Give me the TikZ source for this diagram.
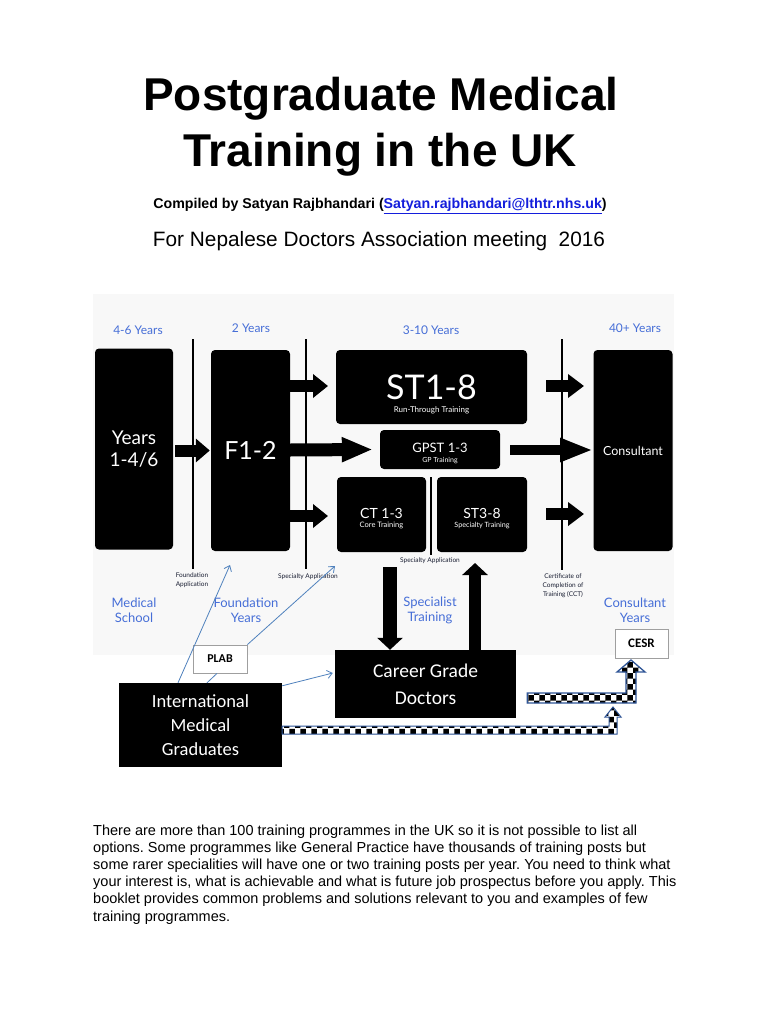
\documentclass[tikz,border=0pt]{standalone}
\usepackage{fontspec}
\setmainfont{Liberation Sans}
\newfontfamily\gill{Lato}
\newfontfamily\calib{Carlito}
\usetikzlibrary{arrows.meta,calc,patterns}
\definecolor{yrblue}{RGB}{70,110,215}
\definecolor{lnblue}{RGB}{79,129,189}
\definecolor{dkblue}{RGB}{47,85,151}
\definecolor{linkblue}{RGB}{20,30,220}
\definecolor{bgg}{RGB}{248,248,248}
\definecolor{lbl}{RGB}{25,30,50}
\frenchspacing
\begin{document}
\begin{tikzpicture}[x=1pt,y=-1pt,
  box/.style={fill=black, rounded corners=4pt, text=white, inner sep=0pt, align=center, font=\gill},
  wtxt/.style={text=white, inner sep=0pt, anchor=base, font=\gill},
  sqbox/.style={fill=black, text=white, inner sep=0pt, align=center, font=\calib},
  wbox/.style={fill=white, draw=gray!75, line width=0.8pt, inner sep=0pt, font=\calib\bfseries},
  yr/.style={text=yrblue, inner sep=0pt, align=center, font=\gill\fontsize{12}{15}\selectfont},
  tinylbl/.style={text=lbl, inner sep=0pt, align=center, font=\gill\fontsize{6.5}{9}\selectfont},
  sepline/.style={line width=2.6pt},
  fat/.style n args={3}{line width=#1, -{Triangle[length=#2,width=#3]}},
  bluearr/.style={lnblue, line width=0.8pt, -{Straight Barb[length=5pt,width=8pt]}},
  chk/.style={draw=dkblue, line width=1.3pt, preaction={fill=white}, pattern=checkerboard}
]
\useasboundingbox (0,0) rectangle (768,1024);
\fill[white] (0,0) rectangle (768,1024);

% ---- title block
\node[anchor=base, inner sep=0pt, font=\bfseries\fontsize{46}{56}\selectfont] (t1) at (381,111) {Postgraduate Medical};
\node[anchor=base, inner sep=0pt, font=\bfseries\fontsize{46}{56}\selectfont] (t2) at (380,167) {Training in the UK};
\node[anchor=base, inner sep=0pt, font=\bfseries\fontsize{14.2}{17}\selectfont] (comp) at (380,209)
  {Compiled by Satyan Rajbhandari (\textcolor{linkblue}{\underline{Satyan.rajbhandari@lthtr.nhs.uk}})};
\node[anchor=base, inner sep=0pt, font=\fontsize{20.8}{24}\selectfont] (nda) at (379,247)
  {For Nepalese Doctors Association meeting\ \ 2016};

% ---- diagram background
\fill[bgg] (93,294) rectangle (674,655);

% year labels
\node[yr] (y1) at (138,330) {4-6 Years};
\node[yr] (y2) at (251,328) {2 Years};
\node[yr] (y3) at (431,330) {3-10 Years};
\node[yr] (y4) at (635,328) {40+ Years};

% separator lines
\draw[sepline] (193,339) -- (193,569);
\draw[sepline] (306,339) -- (306,569);
\draw[sepline] (562,339) -- (562,570);
\draw[sepline] (431,477) -- (431,555);

% boxes
\node[box, minimum width=78, minimum height=201, font=\gill\fontsize{19}{22}\selectfont] (yrs) at (134,449) {Years\\1-4/6};
\node[box, minimum width=79, minimum height=201, font=\gill\fontsize{25}{28}\selectfont] (f12) at (250.5,450.5) {F1-2};
\node[box, minimum width=191, minimum height=74] (st18) at (431.5,387) {};
\node[box, minimum width=120, minimum height=39] (gpst) at (440,449.5) {};
\node[box, minimum width=89, minimum height=75] (ct13) at (381.5,514.5) {};
\node[box, minimum width=90, minimum height=75] (st38) at (482,514.5) {};
\node[box, minimum width=79, minimum height=201, font=\gill\fontsize{12.5}{14}\selectfont] (cons) at (633,450.5) {Consultant};

% box texts
\node[wtxt, font=\gill\fontsize{34}{34}\selectfont] (st18a) at (431.5,399) {ST1-8};
\node[wtxt, font=\gill\fontsize{8}{9}\selectfont] (st18b) at (431.5,412) {Run-Through Training};
\node[wtxt, font=\gill\fontsize{13}{14}\selectfont] (gpsta) at (440,452) {GPST 1-3};
\node[wtxt, font=\gill\fontsize{7}{8}\selectfont] (gpstb) at (440,462) {GP Training};
\node[wtxt, font=\gill\fontsize{14}{15}\selectfont] (ct13a) at (381.5,518) {CT 1-3};
\node[wtxt, font=\gill\fontsize{7.5}{8}\selectfont] (ct13b) at (381.5,527) {Core Training};
\node[wtxt, font=\gill\fontsize{14}{15}\selectfont] (st38a) at (482,518) {ST3-8};
\node[wtxt, font=\gill\fontsize{7.2}{8}\selectfont] (st38b) at (482,527) {Specialty Training};

% small labels
\node[tinylbl] (fa) at (192,580.5) {Foundation\\Application};
\node[tinylbl] (sa1) at (308,577) {Specialty Application};
\node[tinylbl] (sa2) at (430,561) {Specialty Application};
\node[tinylbl] (cct) at (563,586) {Certificate of\\Completion of\\Training (CCT)};

% blue section labels
\node[yr, font=\gill\fontsize{13}{15}\selectfont] (ms) at (134,610) {Medical\\School};
\node[yr, font=\gill\fontsize{13}{15}\selectfont] (fy) at (246,610) {Foundation\\Years};
\node[yr, font=\gill\fontsize{13}{15}\selectfont] (spt) at (430,610) {Specialist\\Training};
\node[yr, font=\gill\fontsize{13}{15}\selectfont] (cy) at (635,610) {Consultant\\Years};

% big black arrows
\coordinate (a1) at (328,386);
\coordinate (a2) at (328,516);
\coordinate (a3s) at (546,386);
\coordinate (a3e) at (584,386);
\coordinate (a4s) at (546,514);
\coordinate (a4e) at (584,514);
\coordinate (a5s) at (510,450);
\coordinate (a5e) at (593,450);
\draw[fat={12pt}{14pt}{23pt}] ($(yrs.east)+(2,1.5)$) -- ($(f12.west)+(-1,0)$);
\draw[fat={12pt}{15pt}{23pt}] (f12.east |- a1) -- (a1);
\draw[fat={13pt}{31pt}{23pt}] (f12.east |- a5s) -- ($(gpst.west)+(-7,0)$);
\draw[fat={12pt}{15pt}{23pt}] (f12.east |- a2) -- (a2);
\draw[fat={12pt}{16pt}{23pt}] (a3s) -- (a3e);
\draw[fat={10pt}{33pt}{22pt}] (a5s) -- (a5e);
\draw[fat={12pt}{16pt}{23pt}] (a4s) -- (a4e);

% lower boxes
\node[sqbox, minimum width=181, minimum height=68, font=\calib\fontsize{19.5}{27}\selectfont] (career) at (425.5,684) {Career Grade\\Doctors};
\node[sqbox, minimum width=163, minimum height=84, font=\calib\fontsize{18.5}{24}\selectfont] (img) at (200.5,725) {International\\Medical\\Graduates};
\node[wbox, minimum width=54, minimum height=28, font=\calib\bfseries\fontsize{12}{14}\selectfont] (plab) at (220,659) {PLAB};
\node[wbox, minimum width=53, minimum height=29, font=\calib\bfseries\fontsize{13}{15}\selectfont] (cesr) at (641.5,643.5) {CESR};

% vertical black arrows
\coordinate (dtop) at (390,567);
\coordinate (utop) at (475,563);
\draw[fat={14pt}{12pt}{25pt}] (dtop) -- (career.north -| dtop);
\draw[fat={12pt}{12pt}{25pt}] (career.north -| utop) -- (utop);

% thin blue arrows
\coordinate (pA) at (230,565);
\coordinate (pB) at (335,566);
\draw[bluearr] ($(img.north)+(-22.5,0)$) -- (pA);
\draw[lnblue, line width=0.8pt] ($(img.north)+(6.5,0)$) -- ($(plab.south)+(-3,0)$);
\draw[bluearr] (plab.north east) -- (pB);
\draw[bluearr] ($(img.north east)+(0,3)$) -- ($(career.west)+(-2,-11)$);

% checkered L-arrows
\draw[chk] ($(career.east)+(11,9)$) -- (626,693) -- (626,672) -- (617,672) -- (631,660) -- (645,672) -- (636,672) -- (636,703) -- ($(career.east)+(11,19)$) -- cycle;
\draw[chk, line width=1pt] ($(img.east)+(0,1)$) -- (609,726) -- (609,717) -- (605,717) -- (613,707) -- (621,717) -- (617,717) -- (617,734) -- ($(img.east)+(0,9)$) -- cycle;

% ---- paragraph (base anchor = last line)
\node[anchor=base west, inner sep=0pt, align=left, font=\fontsize{14.5}{17.2}\selectfont] (para) at (93,921)
{There are more than 100 training programmes in the UK so it is not possible to list all\\
options. Some programmes like General Practice have thousands of training posts but\\
some rarer specialities will have one or two training posts per year. You need to think what\\
your interest is, what is achievable and what is future job prospectus before you apply. This\\
booklet provides common problems and solutions relevant to you and examples of few\\
training programmes.};
\end{tikzpicture}
\end{document}
